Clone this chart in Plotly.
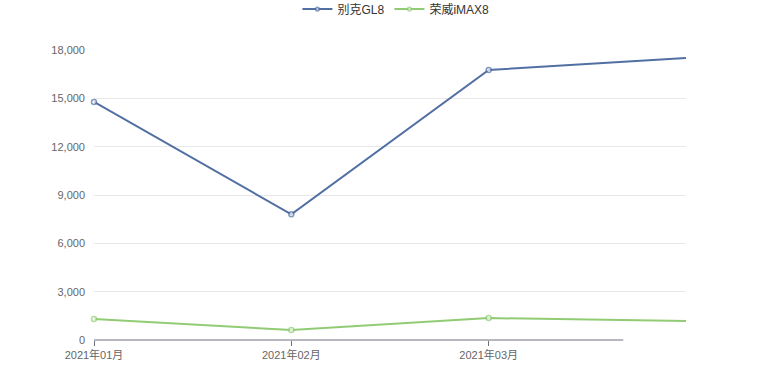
import plotly.graph_objects as go

months = ["2021年01月", "2021年02月", "2021年03月", "2021年04月"]
shown_ticks = ["2021年01月", "2021年02月", "2021年03月"]
buick_gl8 = [14780, 7800, 16760, 17500]
roewe_imax8 = [1310, 620, 1360, 1180]
y_ticks = [0, 3000, 6000, 9000, 12000, 15000, 18000]

blue = "#516fa3"
green = "#91cc75"
font_family = "Liberation Sans, Noto Sans CJK SC, sans-serif"

fig = go.Figure()
for name, vals, col in [("别克GL8", buick_gl8, blue), ("荣威iMAX8", roewe_imax8, green)]:
    fig.add_trace(go.Scatter(
        x=months, y=vals, name=name, mode="lines+markers",
        line=dict(color=col, width=2),
        marker=dict(symbol="circle", size=[5, 5, 5, 0], color="white",
                    line=dict(color=col, width=1.5)),
        cliponaxis=False,
    ))

fig.update_layout(
    width=780, height=380,
    margin=dict(l=94, r=94, t=50, b=40, autoexpand=False),
    paper_bgcolor="white", plot_bgcolor="white",
    font=dict(family=font_family, size=12, color="#666666"),
    showlegend=True,
    legend=dict(orientation="h", x=0.51, xanchor="center", y=1.141, yanchor="middle",
                font=dict(size=12, color="#333333"), itemwidth=30,
                bgcolor="rgba(0,0,0,0)"),
    xaxis=dict(
        type="category", range=[0, 3], showgrid=False, showline=False, zeroline=False,
        tickmode="array", tickvals=shown_ticks, ticktext=shown_ticks,
        ticks="outside", ticklen=5, tickcolor="#6e7079", tickwidth=1,
        tickfont=dict(size=11, color="#666666"),
    ),
    yaxis=dict(
        range=[0, 18000], tickvals=y_ticks, tickformat=",",
        showgrid=True, gridcolor="#e8e8e8", gridwidth=1,
        zeroline=False, showline=False, ticks="",
        ticklabelstandoff=8,
        tickfont=dict(size=11, color="#666666"),
    ),
    shapes=[dict(type="line", xref="paper", yref="paper", x0=0, x1=0.894, y0=0, y1=0,
                 line=dict(color="#6e7079", width=1), layer="above")],
)

fig.write_html("out.html")
